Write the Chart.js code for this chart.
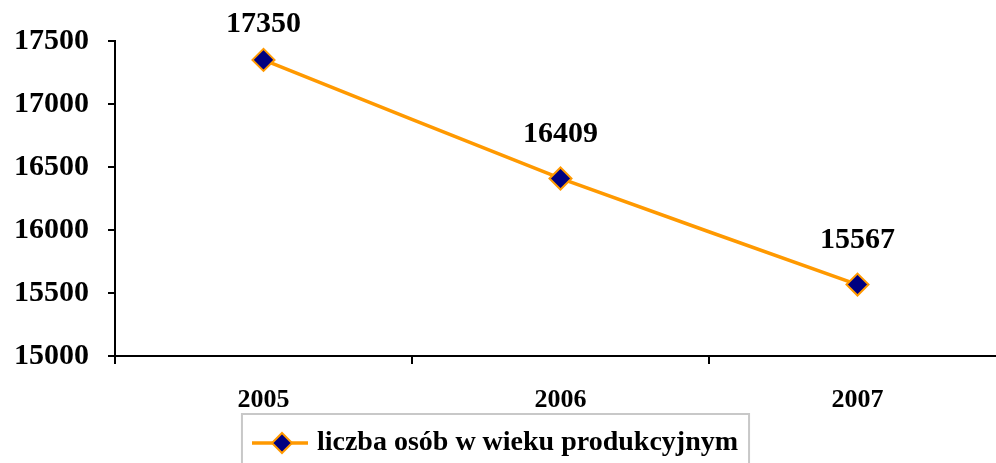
<!DOCTYPE html>
<html>
<head>
<meta charset="utf-8">
<script src="https://cdn.jsdelivr.net/npm/chart.js@4/dist/chart.umd.min.js"></script>
<style>
  html, body { margin: 0; padding: 0; background: #fff; overflow: hidden; }
  canvas { display: block; }
</style>
</head>
<body>
<canvas id="lineChart" width="1019" height="463"></canvas>
<script>
// data
const years = ['2005', '2006', '2007'];
const persons = [17350, 16409, 15567];
const yTicks = [15000, 15500, 16000, 16500, 17000, 17500];
const seriesName = 'liczba osób w wieku produkcyjnym';

const ORANGE = '#ff9900';
const NAVY = '#000080';
const SERIF = '"Liberation Serif", "Times New Roman", serif';

// legend icon: line with diamond
const icon = document.createElement('canvas');
icon.width = 56; icon.height = 26;
(() => {
    const c = icon.getContext('2d');
    c.strokeStyle = ORANGE; c.lineWidth = 3.5;
    c.beginPath(); c.moveTo(0, 13); c.lineTo(56, 13); c.stroke();
    c.beginPath();
    c.moveTo(30, 3); c.lineTo(40, 13); c.lineTo(30, 23); c.lineTo(20, 13); c.closePath();
    c.fillStyle = NAVY; c.fill();
    c.lineWidth = 2; c.stroke();
})();

// value labels above points
const valueLabels = {
    id: 'valueLabels',
    afterDatasetsDraw(chart) {
        const ctx = chart.ctx;
        const meta = chart.getDatasetMeta(0);
        ctx.save();
        ctx.font = 'bold 30px ' + SERIF;
        ctx.fillStyle = '#000';
        ctx.textAlign = 'center';
        ctx.textBaseline = 'bottom';
        meta.data.forEach((pt, i) => {
            const y = Math.max(pt.y - 29, 39);
            ctx.fillText(String(chart.data.datasets[0].data[i]), pt.x, y);
        });
        ctx.restore();
    }
};

// move the legend a little and put a grey frame round it
const legendFrame = {
    id: 'legendFrame',
    afterLayout(chart) {
        const lg = chart.legend;
        lg.left -= 12; lg.right -= 12;
        lg.top += 10; lg.bottom += 10;
    },
    afterDraw(chart) {
        const box = chart.legend.legendHitBoxes[0];
        if (!box) return;
        const ctx = chart.ctx;
        ctx.save();
        ctx.strokeStyle = '#c8c8c8';
        ctx.lineWidth = 2;
        ctx.strokeRect(box.left - 15, box.top - 15, box.width + 26, box.height + 60);
        ctx.restore();
    }
};

new Chart(document.getElementById('lineChart'), {
    type: 'line',
    data: {
        labels: years,
        datasets: [{
            label: seriesName,
            data: persons,
            borderColor: ORANGE,
            borderWidth: 3.5,
            tension: 0.12,
            pointStyle: 'rectRot',
            pointRadius: 11,
            pointHoverRadius: 11,
            pointBackgroundColor: NAVY,
            pointBorderColor: ORANGE,
            pointBorderWidth: 2
        }]
    },
    options: {
        responsive: false,
        animation: false,
        layout: { padding: { top: 41, left: 0, right: 0, bottom: 6 } },
        scales: {
            x: {
                offset: true,
                border: { color: '#000', width: 2 },
                grid: { offset: true, drawOnChartArea: false, color: '#000', lineWidth: 2, tickLength: 8 },
                ticks: { color: '#000', padding: 21, font: { family: SERIF, size: 26, weight: 'bold' } },
                afterFit: s => { s.height = 55; }
            },
            y: {
                min: 15000,
                max: 17500,
                afterBuildTicks: s => { s.ticks = yTicks.map(v => ({ value: v })); },
                border: { color: '#000', width: 2 },
                grid: { drawOnChartArea: false, color: '#000', lineWidth: 2, tickLength: 7 },
                ticks: {
                    color: '#000',
                    padding: 19,
                    font: { family: SERIF, size: 30, weight: 'bold' },
                    callback: v => String(v)
                },
                afterFit: s => { s.width = 115; }
            }
        },
        plugins: {
            legend: {
                position: 'bottom',
                labels: {
                    color: '#000',
                    font: { family: SERIF, size: 28, weight: 'bold' },
                    usePointStyle: true,
                    pointStyleWidth: 46,
                    padding: 8,
                    generateLabels: chart => [{
                        text: chart.data.datasets[0].label,
                        pointStyle: icon,
                        fillStyle: NAVY,
                        strokeStyle: ORANGE,
                        lineWidth: 0,
                        datasetIndex: 0
                    }]
                }
            },
            tooltip: { enabled: false }
        }
    },
    plugins: [valueLabels, legendFrame]
});
</script>
</body>
</html>
